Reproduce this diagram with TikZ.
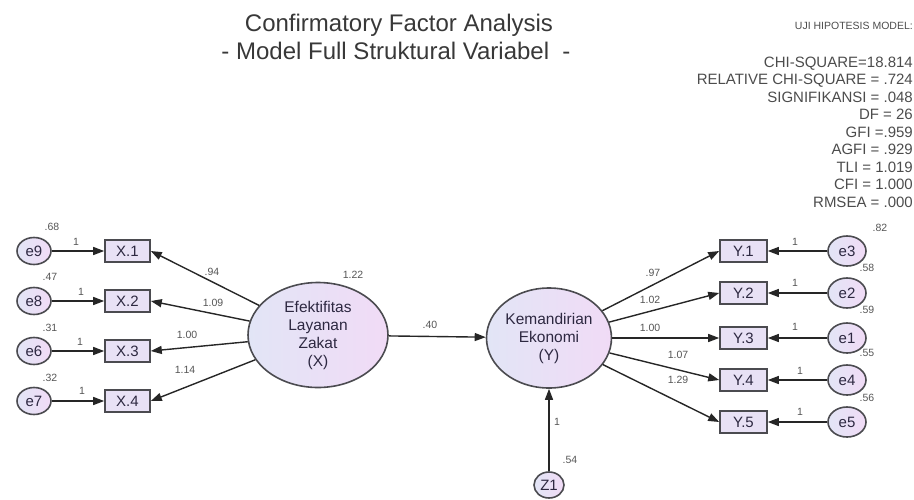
\documentclass[tikz,border=0pt]{standalone}
\usepackage{fontspec}
\setmainfont{Liberation Sans}
\usetikzlibrary{shapes.geometric,arrows.meta}
\definecolor{bord}{RGB}{75,75,80}
\definecolor{boxfill}{RGB}{232,225,245}
\definecolor{ltA}{RGB}{226,229,246}
\definecolor{ltB}{RGB}{241,219,246}
\definecolor{txt}{RGB}{45,40,65}
\definecolor{lab}{RGB}{85,85,85}
\begin{document}
\begin{tikzpicture}[x=1pt,y=-1pt,
 obs/.style={draw=bord,line width=1.6pt,fill=boxfill,minimum width=45pt,minimum height=22pt,inner sep=0pt,font=\fontsize{15}{15}\selectfont,text=txt},
 err/.style={ellipse,draw=bord,line width=1.6pt,left color=ltA,right color=ltB,minimum width=34pt,minimum height=27pt,inner sep=0pt,font=\fontsize{15}{15}\selectfont,text=txt},
 lat/.style={ellipse,draw=bord,line width=1.6pt,left color=ltA,right color=ltB,inner sep=0pt,align=center,font=\fontsize{15.5}{18}\selectfont,text=txt},
 arr/.style={line width=1.4pt,draw=black!85,-{Triangle[length=11pt,width=8pt]}},
 lbl/.style={font=\fontsize{10.5}{11}\selectfont,text=lab,inner sep=0pt},
 stat/.style={anchor=base east,inner sep=0pt,font=\fontsize{15}{15}\selectfont,text=black!70},
]
\useasboundingbox (0,0) rectangle (914,499);
% titles
\node[font=\fontsize{24}{24}\selectfont,text=black!78] (t1) at (399,25) {Confirmatory Factor Analysis};
\node[font=\fontsize{24}{24}\selectfont,text=black!78] (t2) at (396,51) {- Model Full Struktural Variabel\ \ -};
\node[anchor=base east,inner sep=0pt,font=\fontsize{10.5}{11}\selectfont,text=black!70] (uji) at (913,29) {UJI HIPOTESIS MODEL:};
\foreach \t [count=\i] in {CHI-SQUARE=18.814,RELATIVE CHI-SQUARE = .724,SIGNIFIKANSI = .048,DF = 26,GFI =.959,AGFI = .929,TLI = 1.019,CFI = 1.000,RMSEA = .000}
  \node[stat] (s\i) at (913,{67+17.5*(\i-1)}) {\t};
% latent
\node[lat,minimum width=140pt,minimum height=105pt] (LX) at (318,335) {Efektifitas\\Layanan\\Zakat\\(X)};
\node[lat,minimum width=125pt,minimum height=100pt] (LY) at (549,338) {Kemandirian\\Ekonomi\\(Y)};
% X side
\node[obs] (X1) at (127.5,251) {X.1};
\node[obs] (X2) at (127.5,301) {X.2};
\node[obs] (X3) at (127.5,351) {X.3};
\node[obs] (X4) at (127.5,401) {X.4};
\node[err] (e9) at (34,251) {e9};
\node[err] (e8) at (34,301) {e8};
\node[err] (e6) at (34,351) {e6};
\node[err] (e7) at (34,401) {e7};
% Y side
\node[obs,minimum width=47pt] (Y1) at (743.5,251) {Y.1};
\node[obs,minimum width=47pt] (Y2) at (743.5,293) {Y.2};
\node[obs,minimum width=47pt] (Y3) at (743.5,338) {Y.3};
\node[obs,minimum width=47pt] (Y4) at (743.5,380) {Y.4};
\node[obs,minimum width=47pt] (Y5) at (743.5,422) {Y.5};
\node[err,minimum width=38pt,minimum height=30pt] (e3) at (847,251) {e3};
\node[err,minimum width=38pt,minimum height=30pt] (e2) at (847,293) {e2};
\node[err,minimum width=38pt,minimum height=30pt] (e1) at (847,338) {e1};
\node[err,minimum width=38pt,minimum height=30pt] (e4) at (847,380) {e4};
\node[err,minimum width=38pt,minimum height=30pt] (e5) at (847,422) {e5};
\node[err,minimum width=30pt,minimum height=26pt] (Z1) at (549,485) {Z1};
% arrows
\foreach \a/\b in {e9/X1,e8/X2,e6/X3,e7/X4,e3/Y1,e2/Y2,e1/Y3,e4/Y4,e5/Y5,Z1/LY,LX/LY}
  \draw[arr] (\a) -- (\b);
\foreach \b in {X1,X2,X3,X4} \draw[arr] (LX) -- (\b.east);
\foreach \b in {Y1,Y2,Y3,Y4,Y5} \draw[arr] (LY) -- (\b.west);
% labels
\node[lbl] (v9) at (52,227) {.68};
\node[lbl] (v8) at (50,277) {.47};
\node[lbl] (v6) at (50,328) {.31};
\node[lbl] (v7) at (50,378) {.32};
\node[lbl] (o9) at (76,242) {1};
\node[lbl] (o8) at (81,292) {1};
\node[lbl] (o6) at (80,342) {1};
\node[lbl] (o7) at (82,391) {1};
\node[lbl] (l1) at (212,272) {.94};
\node[lbl] (l2) at (213,303) {1.09};
\node[lbl] (l3) at (187,335) {1.00};
\node[lbl] (l4) at (185,370) {1.14};
\node[lbl] (vx) at (353,275) {1.22};
\node[lbl] (b1) at (430,325) {.40};
\node[lbl] (m1) at (653,273) {.97};
\node[lbl] (m2) at (650,300) {1.02};
\node[lbl] (m3) at (650,328) {1.00};
\node[lbl] (m4) at (678,355) {1.07};
\node[lbl] (m5) at (678,380) {1.29};
\node[lbl] (p1) at (795,242) {1};
\node[lbl] (p2) at (795,283) {1};
\node[lbl] (p3) at (795,327) {1};
\node[lbl] (p4) at (800,371) {1};
\node[lbl] (p5) at (800,412) {1};
\node[lbl] (w3) at (880,228) {.82};
\node[lbl] (w2) at (867,268) {.58};
\node[lbl] (w1) at (867,310) {.59};
\node[lbl] (w4) at (867,353) {.55};
\node[lbl] (w5) at (867,398) {.56};
\node[lbl] (z1) at (557,422) {1};
\node[lbl] (z2) at (570,460) {.54};
\end{tikzpicture}
\end{document}
